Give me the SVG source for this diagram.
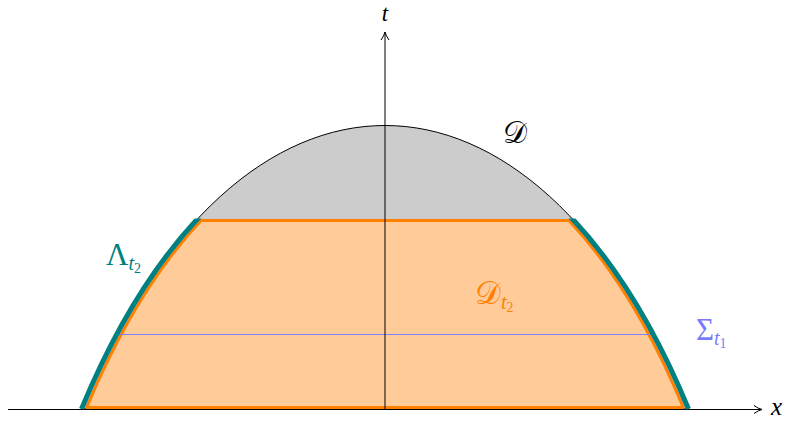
<svg xmlns="http://www.w3.org/2000/svg" width="790" height="423" viewBox="0 0 790 423">
<style>
.lbl{font-family:"Liberation Serif","DejaVu Serif",serif;}
.it{font-style:italic;}
.axis{stroke:#000;stroke-width:1;fill:none;}
.sub{font-style:italic;font-size:20px;}
.num{font-size:14px;}
</style>
<defs>
<marker id="arr" viewBox="0 0 10 10" refX="9" refY="5" markerWidth="10" markerHeight="10" markerUnits="userSpaceOnUse" orient="auto">
<path d="M1,1 Q5,4 9,5 Q5,6 1,9" fill="none" stroke="#000" stroke-width="1"/>
</marker>
<clipPath id="inner"><path d="M86.5,408 C240.5,36 529.5,36 683.5,408 Z"/></clipPath>
<clipPath id="lower"><rect x="0" y="219" width="790" height="192"/></clipPath>
<clipPath id="lowerT"><rect x="0" y="218.5" width="790" height="191"/></clipPath>
</defs>
<g id="D">
<path d="M81.5,409 C238,31 532,31 688.5,409 Z" fill="#CCCCCC" stroke="#000" stroke-width="1"/>
</g>
<g id="Dt2">
<rect x="0" y="220.5" width="790" height="188" fill="#FFCC99" clip-path="url(#inner)"/>
<g clip-path="url(#lower)">
<path d="M86.5,408 C240.5,36 529.5,36 683.5,408" fill="none" stroke="#FF8000" stroke-width="3"/>
</g>
<line x1="200" y1="220.5" x2="570" y2="220.5" stroke="#FF8000" stroke-width="3"/>
<line x1="86" y1="407.5" x2="684" y2="407.5" stroke="#FF8000" stroke-width="3"/>
</g>
<g id="Sigma">
<line x1="119" y1="334.5" x2="653" y2="334.5" stroke="#8080FF" stroke-width="1"/>
</g>
<g id="connectors">
<line class="axis" x1="385" y1="409" x2="385" y2="32" marker-end="url(#arr)"/>
<line class="axis" x1="8" y1="409.5" x2="762" y2="409.5" marker-end="url(#arr)"/>
</g>
<g id="Lambda">
<path d="M81.5,409 C238,31 532,31 688.5,409" fill="none" stroke="#008080" stroke-width="5" clip-path="url(#lowerT)"/>
</g>
<g id="labels">
<text class="lbl it" x="385" y="21" font-size="23" text-anchor="middle">t</text>
<text class="lbl it" x="771" y="415" font-size="25">x</text>
<text class="lbl" x="503" y="143" font-size="30" font-family="DejaVu Serif">𝒟</text>
<text class="lbl" x="475" y="304" font-size="32" fill="#FF8000">𝒟<tspan class="sub" dy="5">t</tspan><tspan class="num" dy="3">2</tspan></text>
<text class="lbl" x="106" y="265" font-size="31" fill="#008080">Λ<tspan class="sub" dy="5">t</tspan><tspan class="num" dy="3">2</tspan></text>
<text class="lbl" x="696" y="340" font-size="31" fill="#7A7AFF">Σ<tspan class="sub" dy="5">t</tspan><tspan class="num" dy="3">1</tspan></text>
</g>
</svg>
